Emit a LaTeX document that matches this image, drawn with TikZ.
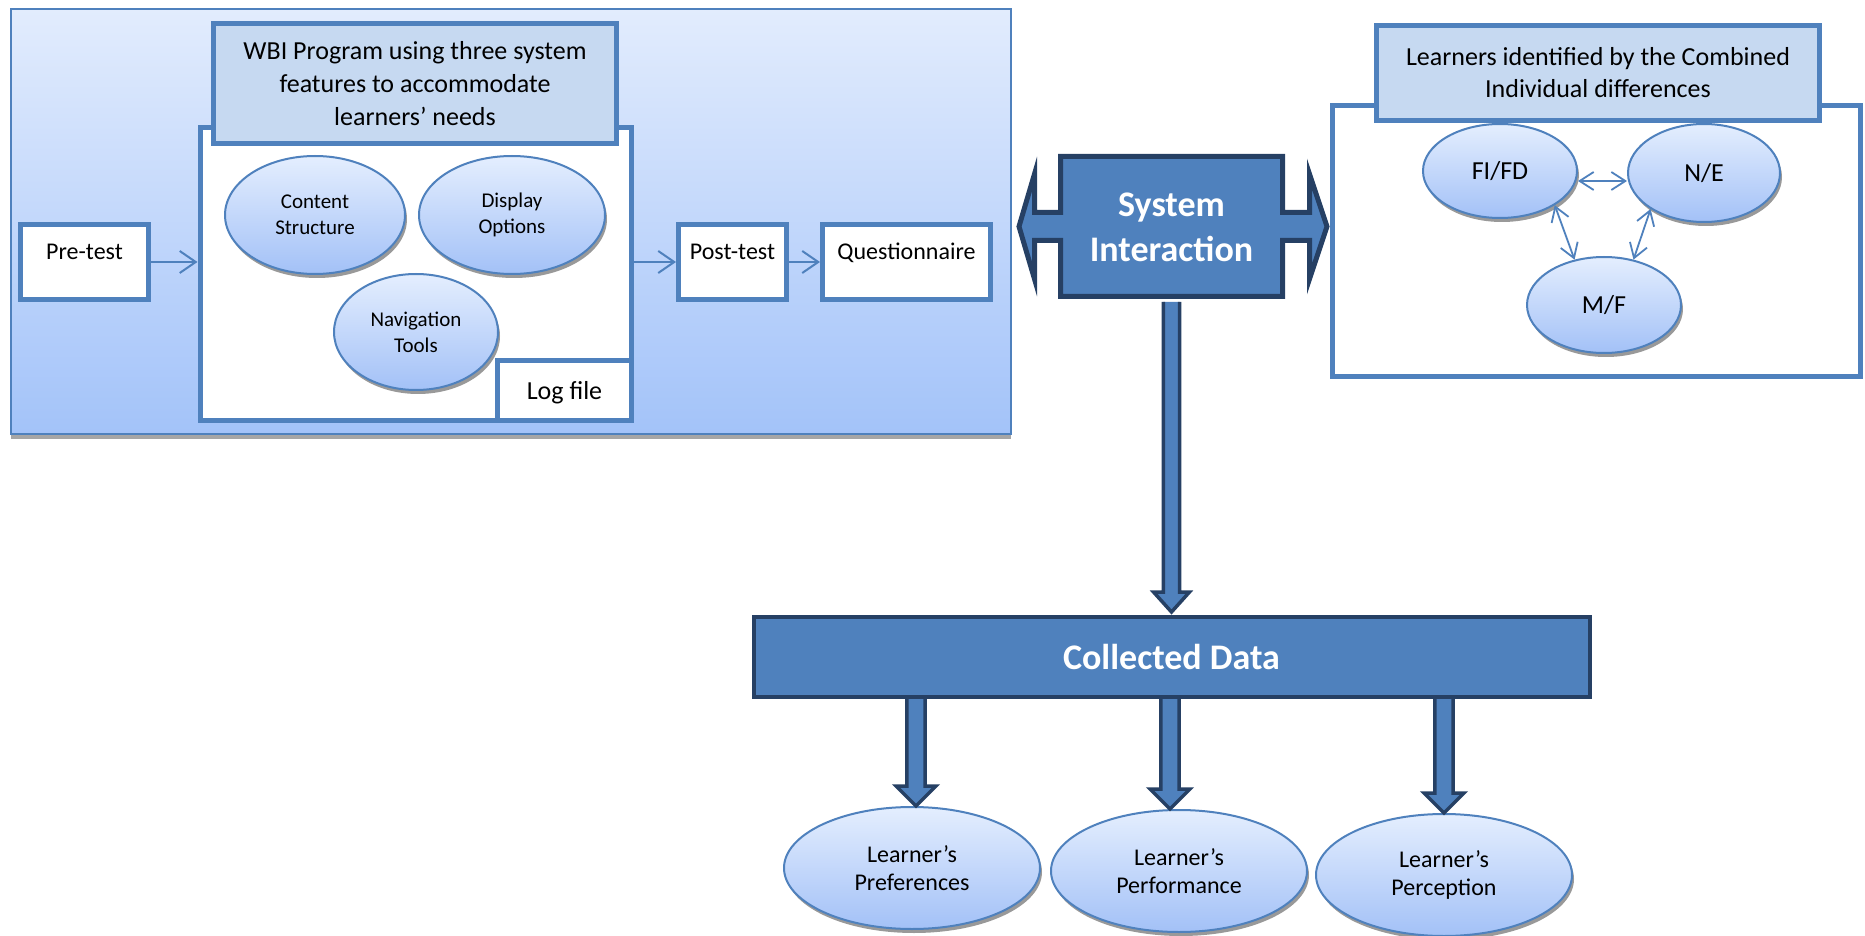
\documentclass[tikz,border=0pt]{standalone}
\usepackage{fontspec}
\setmainfont{Carlito}
\usetikzlibrary{shapes.geometric,arrows.meta,shadows,calc}

\definecolor{accent}{RGB}{79,129,189}
\definecolor{navy}{RGB}{38,64,100}
\definecolor{headFill}{RGB}{198,217,241}
\definecolor{panelTop}{RGB}{226,236,253}
\definecolor{panelBot}{RGB}{163,195,249}
\definecolor{ellTop}{RGB}{228,238,254}
\definecolor{ellBot}{RGB}{163,193,247}

\tikzset{
  panel/.style={draw=accent, line width=1pt, top color=panelTop, bottom color=panelBot,
    inner sep=0, drop shadow={shadow xshift=0pt, shadow yshift=-2.5pt, fill=black!35, opacity=1}},
  framebox/.style={draw=accent, line width=2.5pt, fill=white, inner sep=0},
  headbox/.style={draw=accent, line width=2.5pt, fill=headFill, inner sep=0, align=center,
    font=\fontsize{13pt}{16.5pt}\selectfont},
  stepbox/.style={framebox, font=\fontsize{12pt}{14pt}\selectfont, text height=8pt,
    text depth=10pt, minimum height=37.5pt},
  bubble/.style={ellipse, draw=accent, line width=1pt, top color=ellTop, bottom color=ellBot,
    inner sep=0, align=center,
    drop shadow={shadow xshift=1pt, shadow yshift=-2pt, fill=black!40, opacity=1}},
  flow/.style={draw=accent, line width=1pt, -{Straight Barb[length=8pt,width=11pt]}},
  link/.style={draw=accent, line width=0.9pt,
    {Straight Barb[length=7pt,width=9pt]}-{Straight Barb[length=7pt,width=9pt]}},
  fat/.style={draw=navy, line width=1.75pt, fill=accent, line join=miter},
  bigbox/.style={draw=navy, line width=2pt, fill=accent, inner sep=0, text=white,
    font=\bfseries\fontsize{18pt}{22.5pt}\selectfont},
}

% thick outlined arrow pointing down from a source point to a target point
% #1 source, #2 target, #3 half shaft width, #4 half head width
\newcommand\downarrowblock[4]{%
  \draw[fat] let \p1=(#1), \p2=(#2) in
    (\x1-#3,\y1) -- (\x1-#3,\y2+10pt) -- (\x1-#4,\y2+10pt) -- (\x1,\y2)
    -- (\x1+#4,\y2+10pt) -- (\x1+#3,\y2+10pt) -- (\x1+#3,\y1);}

\begin{document}
\begin{tikzpicture}[x=0.5pt,y=-0.5pt]
\useasboundingbox (0,0) rectangle (1865,936);

% ---------- left panel: the WBI program ----------
\node[panel, minimum width=500pt, minimum height=212.5pt] (panel) at (511,221.5) {};

\node[framebox, minimum width=215.75pt, minimum height=146.5pt] (prog) at (415.75,274) {};
\node[framebox, minimum width=67pt, minimum height=30pt,
      font=\fontsize{13pt}{15pt}\selectfont, text height=9.5pt, text depth=0pt]
      (log) at (564.5,390.5) {Log file};
\node[headbox, minimum width=201.5pt, minimum height=60pt] (wbi) at (415,83.5)
  {WBI Program using three system\\features to accommodate\\learners’ needs};

\node[bubble, minimum width=90pt, minimum height=59pt,
      font=\fontsize{10.5pt}{13pt}\selectfont] (cs) at (315,215) {Content\\Structure};
\node[bubble, minimum width=93pt, minimum height=59pt,
      font=\fontsize{10.5pt}{13pt}\selectfont] (do) at (512,215) {Display\\Options};
\node[bubble, minimum width=82pt, minimum height=58pt,
      font=\fontsize{10.5pt}{13pt}\selectfont] (nt) at (416,332) {Navigation\\Tools};

\node[stepbox, minimum width=64pt] (pre) at (84.5,262) {Pre-test};
\node[stepbox, minimum width=54pt] (post) at (732.5,262) {Post-test};
\node[stepbox, minimum width=84pt] (quest) at (906.5,262) {Questionnaire};

\draw[flow] (pre.east) -- (pre.east -| prog.west);
\draw[flow] (post.west -| prog.east) -- (post.west);
\draw[flow] (post.east) -- (quest.west);

% ---------- right panel: individual differences ----------
\node[framebox, minimum width=264pt, minimum height=135.5pt] (idbox) at (1596.5,241) {};
\node[headbox, minimum width=221.5pt, minimum height=47.5pt, font=\fontsize{13pt}{16pt}\selectfont]
  (idhead) at (1598,73) {Learners identified by the Combined\\Individual differences};

\node[bubble, minimum width=77pt, minimum height=47pt, font=\fontsize{13pt}{15pt}\selectfont]
  (fi) at (1500,171) {FI/FD};
\node[bubble, minimum width=76pt, minimum height=49pt, font=\fontsize{13pt}{15pt}\selectfont]
  (ne) at (1704,173) {N/E};
\node[bubble, minimum width=77pt, minimum height=48pt, font=\fontsize{13pt}{15pt}\selectfont]
  (mf) at (1604,305) {M/F};

\draw[link] ([yshift=-5pt]fi.east) -- ([yshift=-4pt]ne.west);
\draw[link] (fi.-32) -- (mf.123);
\draw[link] (ne.214) -- (mf.57);

% ---------- system interaction and collected data ----------
\draw[fat, line width=2.5pt]
  (1060.5,156.5) -- (1282.5,156.5) -- (1282.5,212.5) -- (1309.5,212.5) -- (1309.5,174)
  -- (1327,226.5) -- (1309.5,279) -- (1309.5,240.5) -- (1282.5,240.5) -- (1282.5,296.5)
  -- (1060.5,296.5) -- (1060.5,240.5) -- (1034.5,240.5) -- (1034.5,279) -- (1019,226.5)
  -- (1034.5,174) -- (1034.5,212.5) -- (1060.5,212.5) -- cycle;
\node[bigbox, draw=none, fill=none, minimum width=111pt, minimum height=70pt, align=center]
  (si) at (1171.5,227.5) {System\\Interaction};

\node[bigbox, minimum width=418pt, minimum height=40pt] (cd) at (1171.5,656.5) {};
\downarrowblock{[yshift=-1.25pt]si.south}{[yshift=1.25pt]cd.north}{4.1pt}{9pt}

\node[bubble, minimum width=128pt, minimum height=61pt, font=\fontsize{12pt}{14pt}\selectfont]
  (pref) at (912,868) {Learner’s\\Preferences};
\node[bubble, minimum width=128pt, minimum height=61pt, font=\fontsize{12pt}{14pt}\selectfont]
  (perf) at (1179,871) {Learner’s\\Performance};
\node[bubble, minimum width=128pt, minimum height=61pt, font=\fontsize{12pt}{14pt}\selectfont]
  (perc) at (1444,875) {Learner’s\\Perception};

\coordinate (o1) at (916,696.5);
\coordinate (o2) at (1170,696.5);
\coordinate (o3) at (1444,696.5);
\downarrowblock{o1}{pref.north}{4.6pt}{10pt}
\downarrowblock{o2}{perf.north}{4.6pt}{10pt}
\downarrowblock{o3}{perc.north}{4.6pt}{10pt}

\node[bigbox, minimum width=418pt, minimum height=40pt] at (cd) {Collected Data};
\end{tikzpicture}
\end{document}
